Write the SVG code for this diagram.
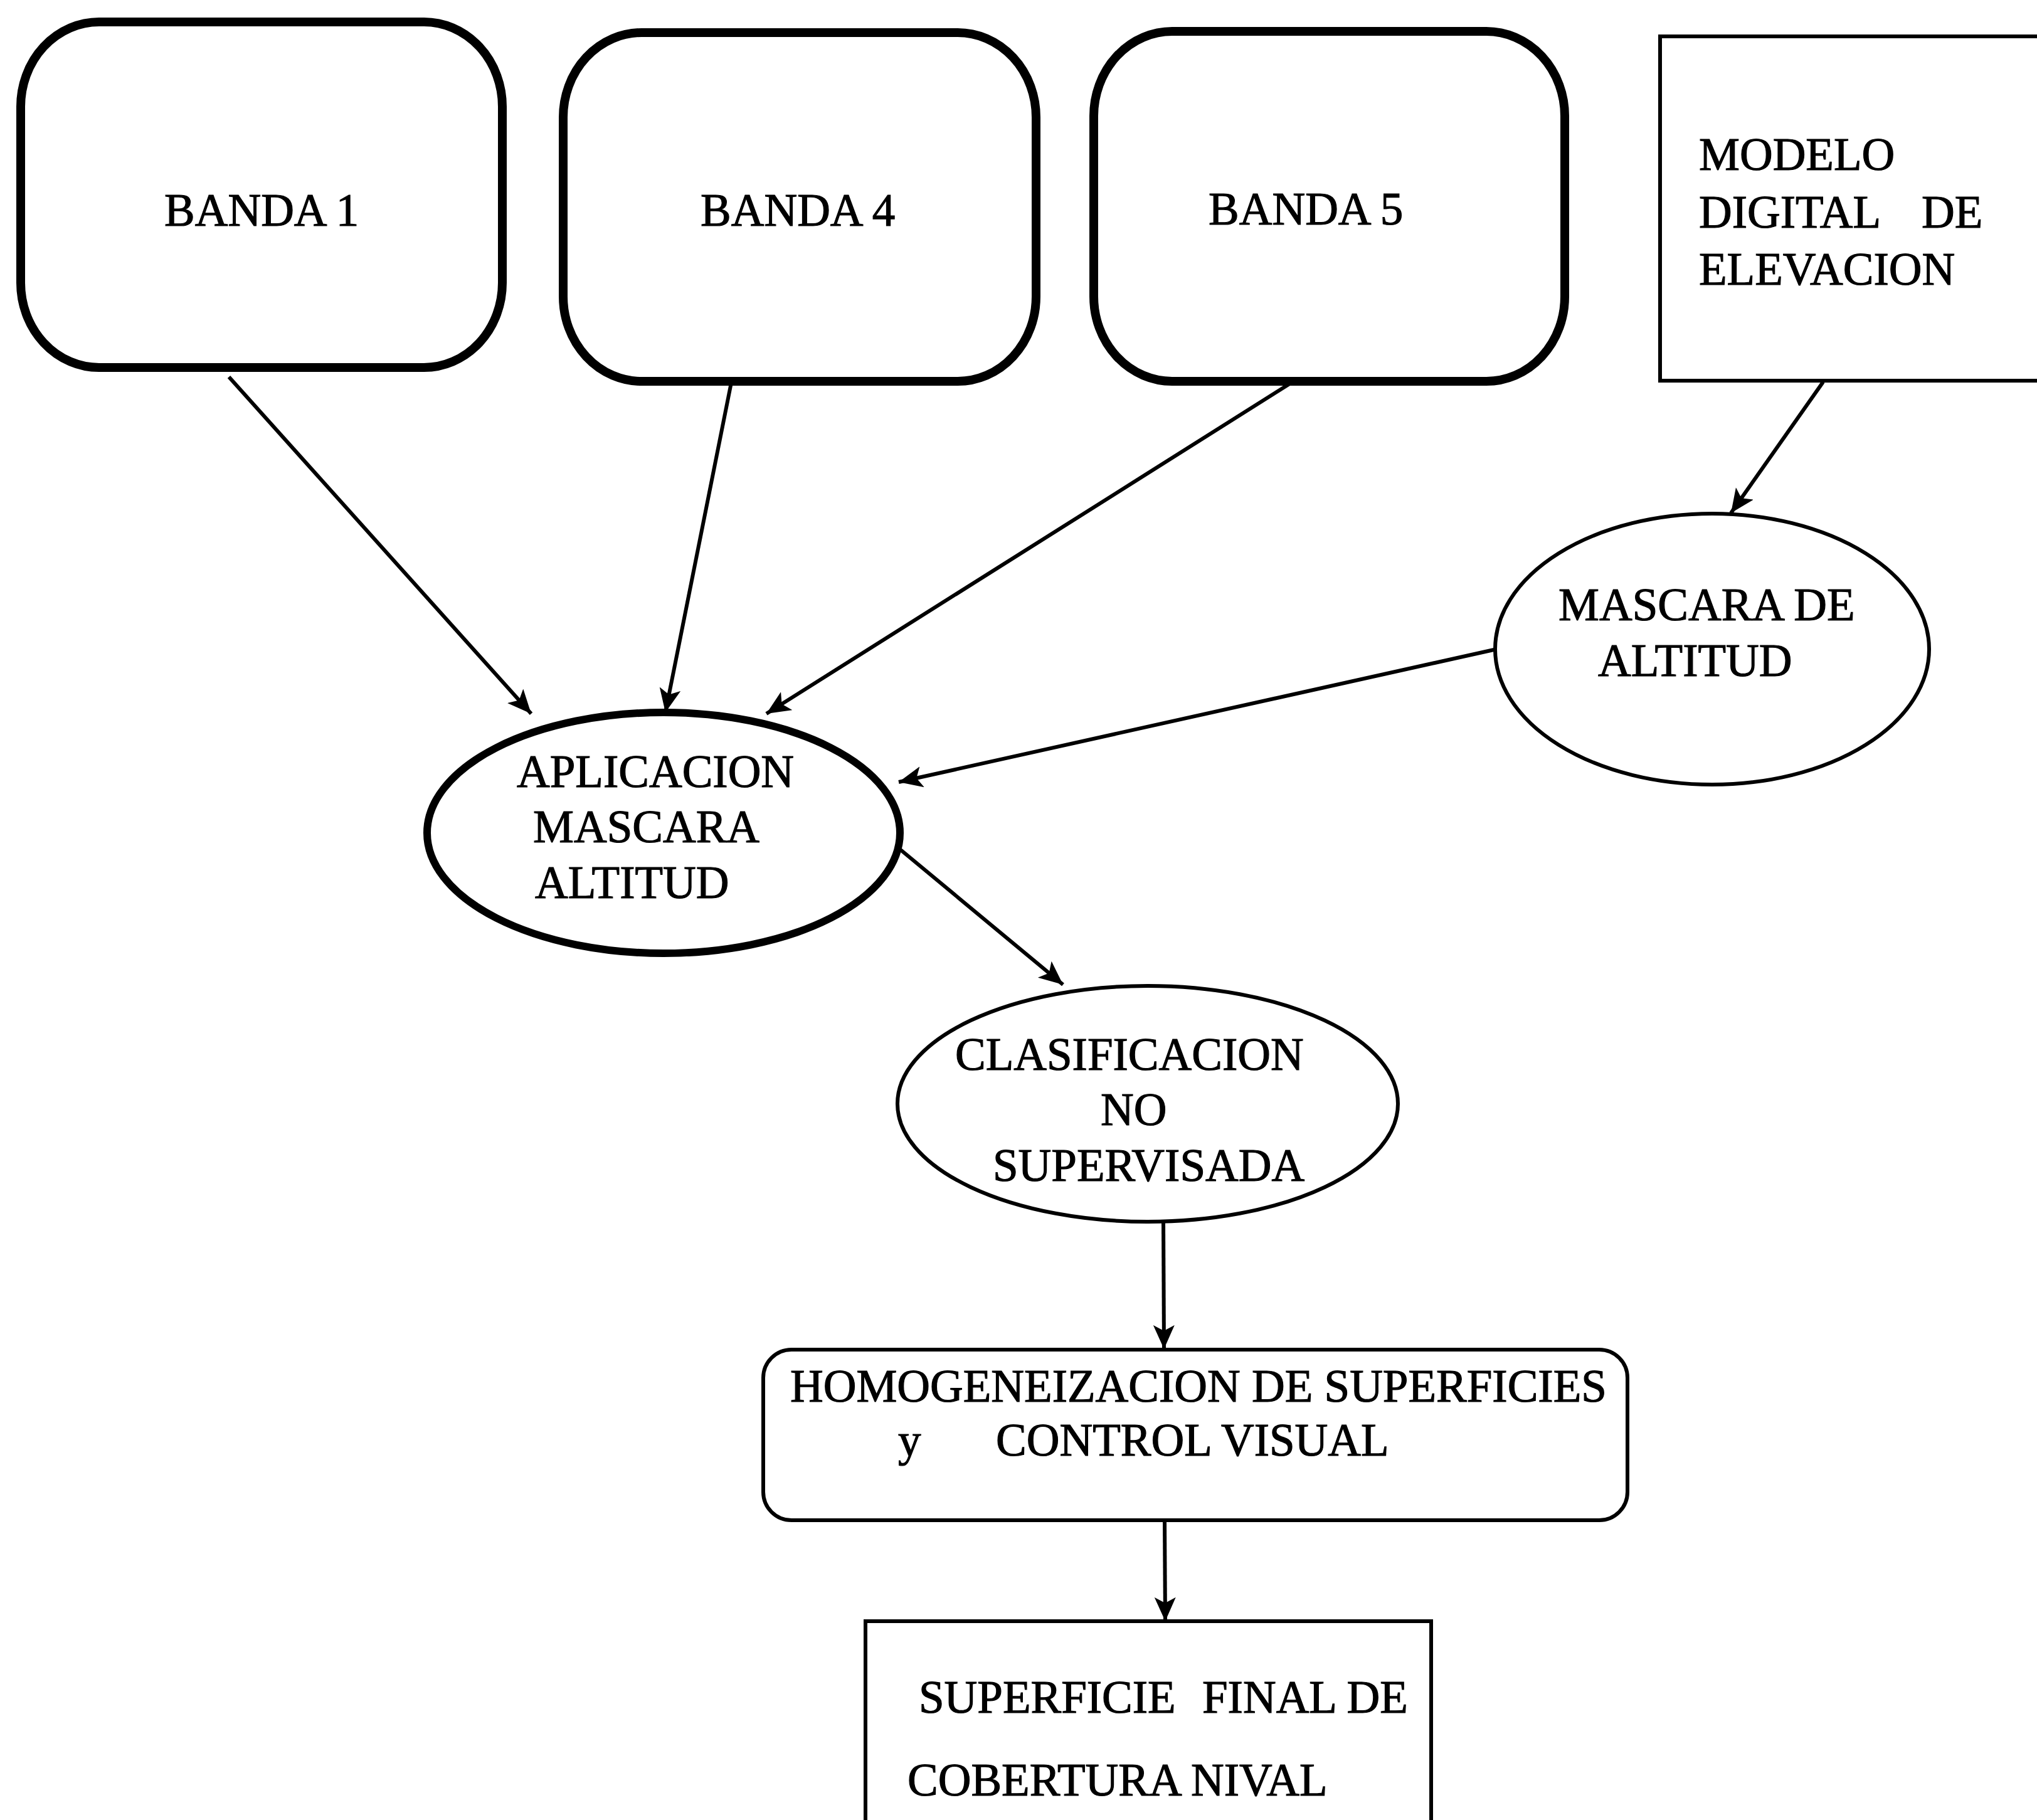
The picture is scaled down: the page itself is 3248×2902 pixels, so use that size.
<svg xmlns="http://www.w3.org/2000/svg" width="3248" height="2902" viewBox="0 0 3248 2902">
<style>
text{font-family:"Liberation Serif","Times New Roman",serif;font-size:73px;fill:#000;stroke:#000;stroke-width:1.2}
.band{fill:#fff;stroke:#000;stroke-width:14}
.thin{fill:#fff;stroke:#000;stroke-width:6}
.conn{fill:none;stroke:#000;stroke-width:6;marker-end:url(#ah)}
</style>
<defs>
<marker id="ah" markerUnits="userSpaceOnUse" markerWidth="44" markerHeight="36" refX="38" refY="17" orient="auto">
<path d="M0,0 L38,17 L0,34 L9,17 Z" fill="#000"/>
</marker>
</defs>
<rect width="3248" height="2902" fill="#fff"/>
<g id="banda1"><rect class="band" x="33" y="35" width="768" height="551" rx="125" ry="135"/><text x="262" y="360">BANDA 1</text></g>
<g id="banda4"><rect class="band" x="898" y="52" width="754" height="556" rx="125" ry="135"/><text x="1117" y="360">BANDA 4</text></g>
<g id="banda5"><rect class="band" x="1744" y="50" width="751" height="558" rx="125" ry="135"/><text x="1927" y="358">BANDA 5</text></g>
<g id="modelo"><rect class="thin" x="2647" y="58" width="640" height="549"/><text x="2709" y="271">MODELO</text><text x="2709" y="363">DIGITAL</text><text x="3064" y="363">DE</text><text x="2709" y="454">ELEVACION</text></g>
<g id="mascara"><ellipse class="thin" cx="2730" cy="1035" rx="346" ry="216" stroke-width="7"/><text x="2485" y="989">MASCARA DE</text><text x="2548" y="1078">ALTITUD</text></g>
<g id="aplicacion"><ellipse cx="1058" cy="1328" rx="377" ry="192" fill="#fff" stroke="#000" stroke-width="12"/><text x="824" y="1255">APLICACION</text><text x="850" y="1343">MASCARA</text><text x="853" y="1432">ALTITUD</text></g>
<g id="clasificacion"><ellipse class="thin" cx="1830" cy="1760" rx="399" ry="188" stroke-width="5"/><text x="1523" y="1706">CLASIFICACION</text><text x="1755" y="1794">NO</text><text x="1583" y="1883">SUPERVISADA</text></g>
<g id="homogeneizacion"><rect class="thin" x="1217" y="2152" width="1378" height="272" rx="45" ry="45"/><text x="1260" y="2235">HOMOGENEIZACION DE SUPERFICIES</text><text x="1432" y="2321">y</text><text x="1588" y="2321">CONTROL VISUAL</text></g>
<g id="superficie"><rect class="thin" x="1380" y="2585" width="902" height="400"/><text x="1465" y="2731">SUPERFICIE</text><text x="1917" y="2731">FINAL DE</text><text x="1447" y="2863">COBERTURA NIVAL</text></g>
<g id="connectors">
<line class="conn" x1="365" y1="601" x2="847" y2="1138"/>
<line class="conn" x1="1166" y1="610" x2="1061" y2="1136"/>
<line class="conn" x1="2061" y1="609" x2="1222" y2="1138"/>
<line class="conn" x1="2382" y1="1036" x2="1433" y2="1247"/>
<line class="conn" x1="2907" y1="609" x2="2760" y2="818"/>
<line class="conn" x1="1436" y1="1355" x2="1695" y2="1570"/>
<line class="conn" x1="1855" y1="1948" x2="1856" y2="2151"/>
<line class="conn" x1="1857" y1="2424" x2="1858" y2="2585"/>
</g>
</svg>
